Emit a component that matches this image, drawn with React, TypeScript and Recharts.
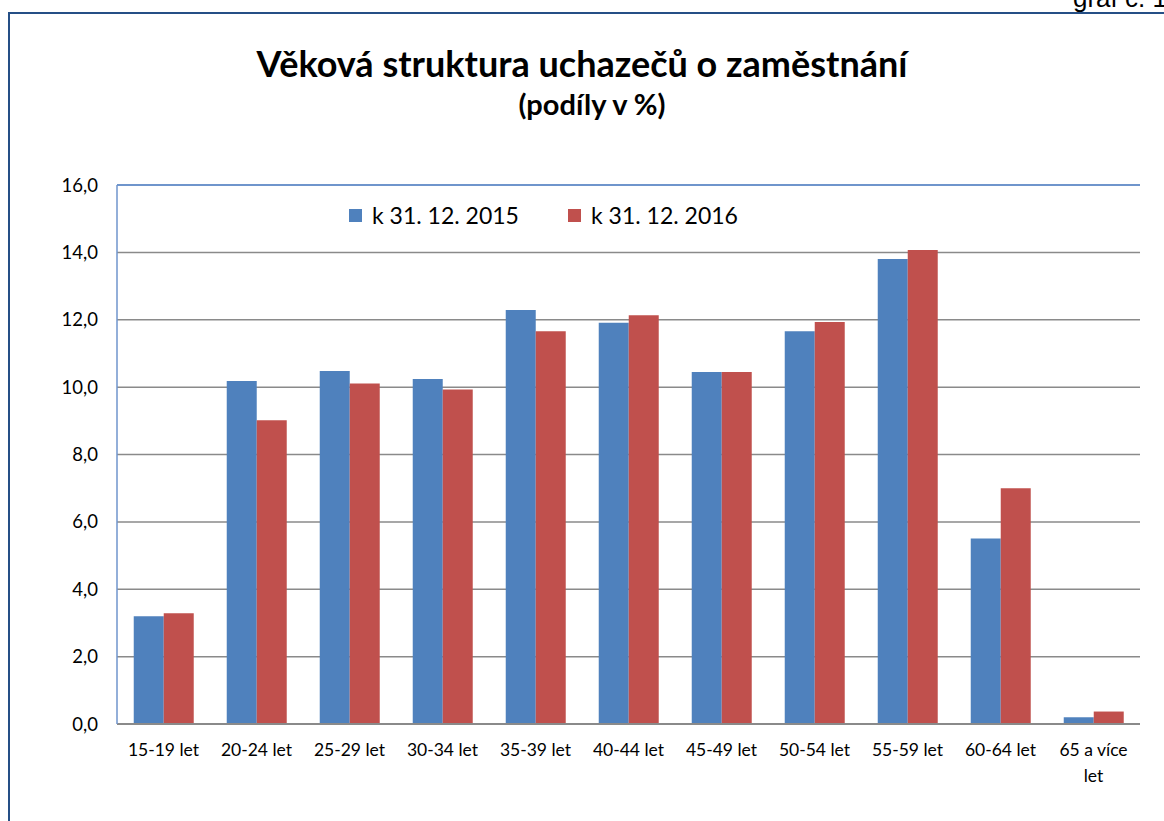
import React from "react";
import { BarChart, Bar, XAxis, YAxis, CartesianGrid, ReferenceLine } from "recharts";

const categories = [
  "15-19 let",
  "20-24 let",
  "25-29 let",
  "30-34 let",
  "35-39 let",
  "40-44 let",
  "45-49 let",
  "50-54 let",
  "55-59 let",
  "60-64 let",
  "65 a více let",
];
const values2015 = [3.2, 10.18, 10.48, 10.24, 12.29, 11.91, 10.45, 11.66, 13.8, 5.51, 0.2];
const values2016 = [3.29, 9.02, 10.11, 9.93, 11.66, 12.13, 10.45, 11.93, 14.07, 7.0, 0.37];
const seriesNames = ["k 31. 12. 2015", "k 31. 12. 2016"];
const seriesColors = ["#4F81BD", "#C0504D"];
const yTicks = [0, 2, 4, 6, 8, 10, 12, 14, 16];

const data = categories.map((name, i) => ({
  name,
  s2015: values2015[i],
  s2016: values2016[i],
}));

const FONT = "Lato, 'Open Sans', sans-serif";
const BORDER = "#6F95CC";

const fmt = (v: number) => v.toFixed(1).replace(".", ",");

interface TickProps {
  x?: number;
  y?: number;
  payload?: { value: string };
}

// long labels break before the last word, like Excel does here
const CategoryTick: React.FC<TickProps> = ({ x, y, payload }) => {
  if (typeof x !== "number" || typeof y !== "number" || !payload) return null;
  const label = String(payload.value);
  let lines = [label];
  if (label.length > 10) {
    const cut = label.lastIndexOf(" ");
    lines = [label.slice(0, cut), label.slice(cut + 1)];
  }
  return (
    <text x={x} y={y} textAnchor="middle" fontSize={17.5} fontFamily={FONT} fill="#000">
      {lines.map((l, i) => (
        <tspan key={i} x={x} dy={i === 0 ? 12 : 26}>
          {l}
        </tspan>
      ))}
    </text>
  );
};

export default function App() {
  return (
    <div
      style={{
        position: "fixed",
        left: 0,
        top: 0,
        width: 1164,
        height: 821,
        overflow: "hidden",
        background: "#fff",
      }}
    >
      {/* caption above the frame, cut off by the page edge */}
      <div
        style={{
          position: "absolute",
          left: 1073,
          top: -16,
          fontFamily: "'Liberation Sans', Arial, sans-serif",
          fontSize: 26,
          lineHeight: "28px",
          whiteSpace: "nowrap",
          color: "#000",
        }}
      >
        graf č. 1
      </div>

      {/* outer frame */}
      <div
        style={{
          position: "absolute",
          left: 8,
          top: 12,
          width: 1300,
          height: 1000,
          borderLeft: "2px solid #254F86",
          borderTop: "2px solid #254F86",
        }}
      />

      <div
        style={{
          position: "absolute",
          left: 0,
          top: 43,
          width: 1164,
          textAlign: "center",
          fontFamily: FONT,
          fontWeight: 700,
          fontSize: 36,
          lineHeight: "40px",
          color: "#000",
        }}
      >
        Věková struktura uchazečů o zaměstnání
      </div>
      <div
        style={{
          position: "absolute",
          left: 10,
          top: 88,
          width: 1164,
          textAlign: "center",
          fontFamily: FONT,
          fontWeight: 700,
          fontSize: 29,
          lineHeight: "32px",
          color: "#000",
        }}
      >
        (podíly v %)
      </div>

      <div style={{ position: "absolute", left: 0, top: 0 }}>
        <BarChart
          width={1164}
          height={821}
          data={data}
          margin={{ top: 185, right: 24, left: 0, bottom: 37 }}
          barCategoryGap="18%"
          barGap={0}
        >
          <CartesianGrid vertical={false} stroke="#8A8A8A" strokeWidth={1.5} />
          <XAxis
            dataKey="name"
            height={60}
            tickLine={false}
            tickSize={0}
            tickMargin={20}
            axisLine={{ stroke: "#8A8A8A", strokeWidth: 2 }}
            interval={0}
            tick={<CategoryTick />}
          />
          <YAxis
            width={117}
            domain={[0, 16]}
            ticks={yTicks}
            tickFormatter={fmt}
            tickLine={false}
            tickSize={0}
            tickMargin={19}
            axisLine={{ stroke: BORDER, strokeWidth: 1.5 }}
            tick={{ fontSize: 18.5, fontFamily: FONT, fill: "#000" }}
          />
          <YAxis
            yAxisId="right"
            orientation="right"
            width={0}
            domain={[0, 16]}
            tick={false}
            tickLine={false}
            axisLine={{ stroke: BORDER, strokeWidth: 2 }}
          />
          <ReferenceLine y={16} stroke={BORDER} strokeWidth={2} />
          <Bar dataKey="s2015" name={seriesNames[0]} fill={seriesColors[0]} isAnimationActive={false} />
          <Bar dataKey="s2016" name={seriesNames[1]} fill={seriesColors[1]} isAnimationActive={false} />
        </BarChart>
      </div>

      {/* legend */}
      {seriesNames.map((name, i) => (
        <div
          key={name}
          style={{
            position: "absolute",
            left: 349 + i * 219,
            top: 200,
            display: "flex",
            alignItems: "center",
            fontFamily: FONT,
            fontSize: 23,
            lineHeight: "30px",
            whiteSpace: "nowrap",
            color: "#000",
          }}
        >
          <span
            style={{
              display: "inline-block",
              width: 13,
              height: 13,
              background: seriesColors[i],
              marginRight: 10,
            }}
          />
          {name}
        </div>
      ))}
    </div>
  );
}
